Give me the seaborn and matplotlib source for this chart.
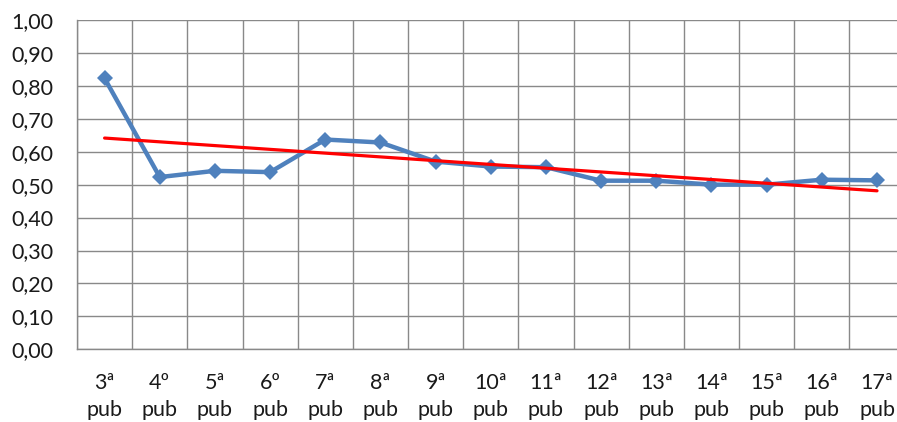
import numpy as np
import pandas as pd
import matplotlib
matplotlib.use('Agg')
import matplotlib.pyplot as plt
import seaborn as sns
from matplotlib.ticker import FuncFormatter, FixedLocator

# Dados
categorias = ['3ª\npub', '4º\npub', '5ª\npub', '6º\npub', '7ª\npub', '8ª\npub', '9ª\npub',
              '10ª\npub', '11ª\npub', '12ª\npub', '13ª\npub', '14ª\npub', '15ª\npub',
              '16ª\npub', '17ª\npub']
valores = [0.823, 0.523, 0.542, 0.538, 0.637, 0.628, 0.570, 0.555, 0.553,
           0.512, 0.512, 0.500, 0.500, 0.515, 0.513]
y_ticks = [0.0, 0.1, 0.2, 0.3, 0.4, 0.5, 0.6, 0.7, 0.8, 0.9, 1.0]

df = pd.DataFrame({'pos': np.arange(len(categorias)), 'valor': valores})

sns.set_style('white')
plt.rcParams['font.family'] = ['Lato', 'DejaVu Sans']

fig = plt.figure(figsize=(8.97, 4.22), dpi=100)
ax = fig.add_axes([77 / 897, 1 - 349.3 / 422, (904.6 - 77) / 897, (349.3 - 20) / 422])

grid_color = '#898989'

# Série principal
sns.lineplot(data=df, x='pos', y='valor', ax=ax, color='#4F81BD', lw=3.2,
             marker='D', markersize=8, markeredgewidth=0, zorder=3)

# Linha de tendência linear
sns.regplot(data=df, x='pos', y='valor', ax=ax, scatter=False, ci=None,
            truncate=True, color='#FF0000', line_kws={'lw': 2.3, 'zorder': 4})

ax.set_xlim(-0.5, len(categorias) - 0.5)
ax.set_ylim(0, 1)

# Grades nas bordas das categorias
ax.xaxis.set_major_locator(FixedLocator(np.arange(-0.5, len(categorias), 1.0)))
ax.xaxis.set_minor_locator(FixedLocator(np.arange(len(categorias))))
ax.set_xticklabels([], minor=False)
ax.set_xticklabels(categorias, minor=True, linespacing=1.45)
ax.tick_params(axis='x', which='minor', length=0, pad=17, labelsize=15.5, labelcolor='#1a1a1a')
ax.tick_params(axis='x', which='major', length=6, width=1, color=grid_color, direction='out')

ax.set_yticks(y_ticks)
ax.yaxis.set_major_formatter(FuncFormatter(lambda v, p: f'{v:.2f}'.replace('.', ',')))
ax.tick_params(axis='y', length=6, width=1, color=grid_color, direction='out',
               pad=11, labelsize=15.5, labelcolor='#1a1a1a')

ax.grid(True, which='major', color=grid_color, lw=1)
ax.set_axisbelow(True)

for s in ['top', 'right']:
    ax.spines[s].set_visible(False)
for s in ['left', 'bottom']:
    ax.spines[s].set_color(grid_color)
    ax.spines[s].set_linewidth(1)

ax.set_xlabel('')
ax.set_ylabel('')

fig.savefig('out.png', dpi=100)
